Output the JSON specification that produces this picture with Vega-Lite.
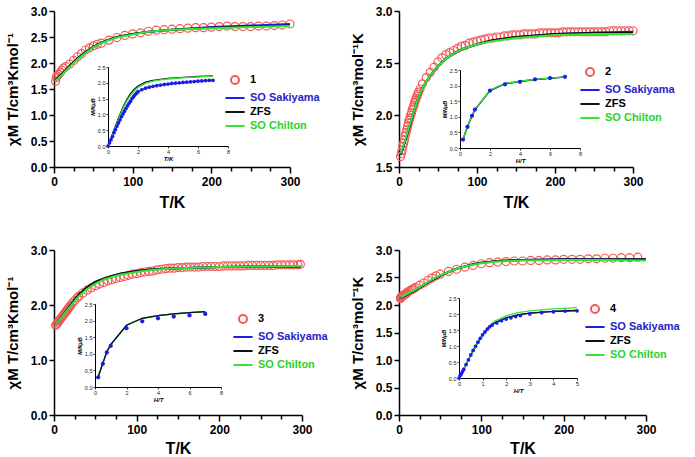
{
  "$schema": "https://vega.github.io/schema/vega-lite/v6.json",
  "padding": {"left": 5, "top": 5, "right": 0, "bottom": 0},
  "background": "white",
  "config": {
    "view": {"stroke": null},
    "font": "Liberation Sans",
    "axis": {"grid": false, "domainColor": "black", "tickColor": "black", "labelColor": "black", "titleColor": "black", "labelFontWeight": "bold", "titleFontWeight": "bold", "labelOverlap": false, "tickCount": 30},
    "legend": {"labelFont": "Liberation Sans"}
  },
  "datasets": {
    "main1": [
      {"T":2,"v":1.65,"s":"1"},{"T":3,"v":1.72,"s":"1"},{"T":4,"v":1.75,"s":"1"},{"T":6,"v":1.78,"s":"1"},{"T":8,"v":1.82,"s":"1"},{"T":10,"v":1.86,"s":"1"},{"T":12,"v":1.9,"s":"1"},{"T":15,"v":1.93,"s":"1"},{"T":20,"v":1.98,"s":"1"},{"T":25,"v":2.05,"s":"1"},{"T":30,"v":2.12,"s":"1"},{"T":35,"v":2.18,"s":"1"},{"T":40,"v":2.25,"s":"1"},{"T":45,"v":2.29,"s":"1"},{"T":50,"v":2.33,"s":"1"},{"T":55,"v":2.36,"s":"1"},{"T":60,"v":2.38,"s":"1"},{"T":70,"v":2.44,"s":"1"},{"T":80,"v":2.49,"s":"1"},{"T":90,"v":2.53,"s":"1"},{"T":100,"v":2.56,"s":"1"},{"T":110,"v":2.58,"s":"1"},{"T":120,"v":2.61,"s":"1"},{"T":130,"v":2.63,"s":"1"},{"T":140,"v":2.64,"s":"1"},{"T":150,"v":2.65,"s":"1"},{"T":160,"v":2.66,"s":"1"},{"T":170,"v":2.67,"s":"1"},{"T":180,"v":2.68,"s":"1"},{"T":190,"v":2.68,"s":"1"},{"T":200,"v":2.69,"s":"1"},{"T":210,"v":2.7,"s":"1"},{"T":220,"v":2.71,"s":"1"},{"T":230,"v":2.7,"s":"1"},{"T":240,"v":2.7,"s":"1"},{"T":250,"v":2.7,"s":"1"},{"T":260,"v":2.71,"s":"1"},{"T":270,"v":2.71,"s":"1"},{"T":280,"v":2.72,"s":"1"},{"T":290,"v":2.73,"s":"1"},{"T":300,"v":2.75,"s":"1"},
      {"T":2,"v":1.68,"s":"SO Sakiyama"},{"T":5,"v":1.72,"s":"SO Sakiyama"},{"T":10,"v":1.79,"s":"SO Sakiyama"},{"T":15,"v":1.87,"s":"SO Sakiyama"},{"T":20,"v":1.95,"s":"SO Sakiyama"},{"T":30,"v":2.09,"s":"SO Sakiyama"},{"T":40,"v":2.21,"s":"SO Sakiyama"},{"T":50,"v":2.31,"s":"SO Sakiyama"},{"T":60,"v":2.39,"s":"SO Sakiyama"},{"T":70,"v":2.45,"s":"SO Sakiyama"},{"T":80,"v":2.5,"s":"SO Sakiyama"},{"T":100,"v":2.56,"s":"SO Sakiyama"},{"T":120,"v":2.6,"s":"SO Sakiyama"},{"T":150,"v":2.64,"s":"SO Sakiyama"},{"T":200,"v":2.69,"s":"SO Sakiyama"},{"T":250,"v":2.72,"s":"SO Sakiyama"},{"T":300,"v":2.75,"s":"SO Sakiyama"},
      {"T":2,"v":1.68,"s":"ZFS"},{"T":5,"v":1.72,"s":"ZFS"},{"T":10,"v":1.79,"s":"ZFS"},{"T":15,"v":1.87,"s":"ZFS"},{"T":20,"v":1.95,"s":"ZFS"},{"T":30,"v":2.09,"s":"ZFS"},{"T":40,"v":2.21,"s":"ZFS"},{"T":50,"v":2.31,"s":"ZFS"},{"T":60,"v":2.39,"s":"ZFS"},{"T":70,"v":2.45,"s":"ZFS"},{"T":80,"v":2.5,"s":"ZFS"},{"T":100,"v":2.56,"s":"ZFS"},{"T":120,"v":2.6,"s":"ZFS"},{"T":150,"v":2.64,"s":"ZFS"},{"T":200,"v":2.68,"s":"ZFS"},{"T":250,"v":2.7,"s":"ZFS"},{"T":300,"v":2.72,"s":"ZFS"},
      {"T":2,"v":1.66,"s":"SO Chilton"},{"T":5,"v":1.7,"s":"SO Chilton"},{"T":10,"v":1.77,"s":"SO Chilton"},{"T":15,"v":1.85,"s":"SO Chilton"},{"T":20,"v":1.93,"s":"SO Chilton"},{"T":30,"v":2.07,"s":"SO Chilton"},{"T":40,"v":2.19,"s":"SO Chilton"},{"T":50,"v":2.3,"s":"SO Chilton"},{"T":60,"v":2.38,"s":"SO Chilton"},{"T":70,"v":2.44,"s":"SO Chilton"},{"T":80,"v":2.49,"s":"SO Chilton"},{"T":100,"v":2.55,"s":"SO Chilton"},{"T":120,"v":2.6,"s":"SO Chilton"},{"T":150,"v":2.64,"s":"SO Chilton"},{"T":200,"v":2.67,"s":"SO Chilton"},{"T":250,"v":2.69,"s":"SO Chilton"},{"T":300,"v":2.71,"s":"SO Chilton"}
    ],
    "ins1": [
      {"H":0,"M":0,"s":"dots"},{"H":0.1,"M":0.1,"s":"dots"},{"H":0.2,"M":0.2,"s":"dots"},{"H":0.3,"M":0.3,"s":"dots"},{"H":0.4,"M":0.42,"s":"dots"},{"H":0.5,"M":0.52,"s":"dots"},{"H":0.6,"M":0.63,"s":"dots"},{"H":0.7,"M":0.73,"s":"dots"},{"H":0.8,"M":0.83,"s":"dots"},{"H":0.9,"M":0.93,"s":"dots"},{"H":1.0,"M":1.02,"s":"dots"},{"H":1.1,"M":1.1,"s":"dots"},{"H":1.2,"M":1.19,"s":"dots"},{"H":1.3,"M":1.27,"s":"dots"},{"H":1.4,"M":1.35,"s":"dots"},{"H":1.5,"M":1.42,"s":"dots"},{"H":1.6,"M":1.5,"s":"dots"},{"H":1.7,"M":1.56,"s":"dots"},{"H":1.8,"M":1.62,"s":"dots"},{"H":1.9,"M":1.67,"s":"dots"},{"H":2.0,"M":1.72,"s":"dots"},{"H":2.25,"M":1.78,"s":"dots"},{"H":2.5,"M":1.83,"s":"dots"},{"H":2.75,"M":1.86,"s":"dots"},{"H":3.0,"M":1.89,"s":"dots"},{"H":3.25,"M":1.91,"s":"dots"},{"H":3.5,"M":1.93,"s":"dots"},{"H":3.75,"M":1.95,"s":"dots"},{"H":4.0,"M":1.96,"s":"dots"},{"H":4.25,"M":1.98,"s":"dots"},{"H":4.5,"M":1.99,"s":"dots"},{"H":4.75,"M":2.0,"s":"dots"},{"H":5.0,"M":2.01,"s":"dots"},{"H":5.25,"M":2.02,"s":"dots"},{"H":5.5,"M":2.03,"s":"dots"},{"H":5.75,"M":2.04,"s":"dots"},{"H":6.0,"M":2.05,"s":"dots"},{"H":6.25,"M":2.06,"s":"dots"},{"H":6.5,"M":2.07,"s":"dots"},{"H":6.75,"M":2.08,"s":"dots"},{"H":7.0,"M":2.08,"s":"dots"},
      {"H":0,"M":0,"s":"SO Sakiyama"},{"H":0.25,"M":0.27,"s":"SO Sakiyama"},{"H":0.5,"M":0.52,"s":"SO Sakiyama"},{"H":0.75,"M":0.78,"s":"SO Sakiyama"},{"H":1,"M":1.02,"s":"SO Sakiyama"},{"H":1.25,"M":1.24,"s":"SO Sakiyama"},{"H":1.5,"M":1.42,"s":"SO Sakiyama"},{"H":1.75,"M":1.59,"s":"SO Sakiyama"},{"H":2,"M":1.72,"s":"SO Sakiyama"},{"H":2.5,"M":1.83,"s":"SO Sakiyama"},{"H":3,"M":1.89,"s":"SO Sakiyama"},{"H":3.5,"M":1.93,"s":"SO Sakiyama"},{"H":4,"M":1.96,"s":"SO Sakiyama"},{"H":5,"M":2.01,"s":"SO Sakiyama"},{"H":6,"M":2.05,"s":"SO Sakiyama"},{"H":7,"M":2.08,"s":"SO Sakiyama"},
      {"H":0,"M":0,"s":"ZFS"},{"H":0.25,"M":0.32,"s":"ZFS"},{"H":0.5,"M":0.64,"s":"ZFS"},{"H":0.75,"M":0.95,"s":"ZFS"},{"H":1,"M":1.23,"s":"ZFS"},{"H":1.25,"M":1.47,"s":"ZFS"},{"H":1.5,"M":1.66,"s":"ZFS"},{"H":1.75,"M":1.8,"s":"ZFS"},{"H":2,"M":1.9,"s":"ZFS"},{"H":2.5,"M":2.02,"s":"ZFS"},{"H":3,"M":2.08,"s":"ZFS"},{"H":3.5,"M":2.11,"s":"ZFS"},{"H":4,"M":2.14,"s":"ZFS"},{"H":5,"M":2.17,"s":"ZFS"},{"H":6,"M":2.2,"s":"ZFS"},{"H":7,"M":2.22,"s":"ZFS"},
      {"H":0,"M":0,"s":"SO Chilton"},{"H":0.25,"M":0.31,"s":"SO Chilton"},{"H":0.5,"M":0.62,"s":"SO Chilton"},{"H":0.75,"M":0.92,"s":"SO Chilton"},{"H":1,"M":1.19,"s":"SO Chilton"},{"H":1.25,"M":1.42,"s":"SO Chilton"},{"H":1.5,"M":1.6,"s":"SO Chilton"},{"H":1.75,"M":1.74,"s":"SO Chilton"},{"H":2,"M":1.85,"s":"SO Chilton"},{"H":2.5,"M":1.98,"s":"SO Chilton"},{"H":3,"M":2.05,"s":"SO Chilton"},{"H":3.5,"M":2.09,"s":"SO Chilton"},{"H":4,"M":2.12,"s":"SO Chilton"},{"H":5,"M":2.16,"s":"SO Chilton"},{"H":6,"M":2.19,"s":"SO Chilton"},{"H":7,"M":2.21,"s":"SO Chilton"}
    ],
    "main2": [
      {"T":2,"v":1.6,"s":"2"},{"T":3,"v":1.63,"s":"2"},{"T":4,"v":1.66,"s":"2"},{"T":5,"v":1.7,"s":"2"},{"T":6,"v":1.73,"s":"2"},{"T":7,"v":1.76,"s":"2"},{"T":8,"v":1.8,"s":"2"},{"T":9,"v":1.83,"s":"2"},{"T":10,"v":1.86,"s":"2"},{"T":11,"v":1.89,"s":"2"},{"T":12,"v":1.92,"s":"2"},{"T":13,"v":1.95,"s":"2"},{"T":14,"v":1.97,"s":"2"},{"T":15,"v":2.0,"s":"2"},{"T":16,"v":2.02,"s":"2"},{"T":17,"v":2.05,"s":"2"},{"T":18,"v":2.07,"s":"2"},{"T":19,"v":2.09,"s":"2"},{"T":20,"v":2.12,"s":"2"},{"T":21,"v":2.14,"s":"2"},{"T":22,"v":2.16,"s":"2"},{"T":23,"v":2.18,"s":"2"},{"T":24,"v":2.2,"s":"2"},{"T":25,"v":2.22,"s":"2"},{"T":27,"v":2.25,"s":"2"},{"T":30,"v":2.3,"s":"2"},{"T":35,"v":2.36,"s":"2"},{"T":40,"v":2.41,"s":"2"},{"T":45,"v":2.46,"s":"2"},{"T":50,"v":2.51,"s":"2"},{"T":55,"v":2.55,"s":"2"},{"T":60,"v":2.58,"s":"2"},{"T":65,"v":2.6,"s":"2"},{"T":70,"v":2.62,"s":"2"},{"T":75,"v":2.64,"s":"2"},{"T":80,"v":2.66,"s":"2"},{"T":85,"v":2.67,"s":"2"},{"T":90,"v":2.69,"s":"2"},{"T":95,"v":2.7,"s":"2"},{"T":100,"v":2.71,"s":"2"},{"T":105,"v":2.72,"s":"2"},{"T":110,"v":2.73,"s":"2"},{"T":115,"v":2.74,"s":"2"},{"T":120,"v":2.74,"s":"2"},{"T":125,"v":2.75,"s":"2"},{"T":130,"v":2.75,"s":"2"},{"T":135,"v":2.76,"s":"2"},{"T":140,"v":2.76,"s":"2"},{"T":145,"v":2.77,"s":"2"},{"T":150,"v":2.77,"s":"2"},{"T":155,"v":2.77,"s":"2"},{"T":160,"v":2.78,"s":"2"},{"T":165,"v":2.78,"s":"2"},{"T":170,"v":2.78,"s":"2"},{"T":175,"v":2.78,"s":"2"},{"T":180,"v":2.79,"s":"2"},{"T":185,"v":2.79,"s":"2"},{"T":190,"v":2.79,"s":"2"},{"T":195,"v":2.79,"s":"2"},{"T":200,"v":2.79,"s":"2"},{"T":205,"v":2.79,"s":"2"},{"T":210,"v":2.8,"s":"2"},{"T":215,"v":2.8,"s":"2"},{"T":220,"v":2.8,"s":"2"},{"T":225,"v":2.8,"s":"2"},{"T":230,"v":2.8,"s":"2"},{"T":235,"v":2.8,"s":"2"},{"T":240,"v":2.8,"s":"2"},{"T":245,"v":2.8,"s":"2"},{"T":250,"v":2.8,"s":"2"},{"T":255,"v":2.8,"s":"2"},{"T":260,"v":2.8,"s":"2"},{"T":265,"v":2.8,"s":"2"},{"T":270,"v":2.81,"s":"2"},{"T":275,"v":2.81,"s":"2"},{"T":280,"v":2.81,"s":"2"},{"T":285,"v":2.81,"s":"2"},{"T":290,"v":2.81,"s":"2"},{"T":295,"v":2.81,"s":"2"},{"T":300,"v":2.81,"s":"2"},
      {"T":2,"v":1.62,"s":"SO Sakiyama"},{"T":5,"v":1.68,"s":"SO Sakiyama"},{"T":10,"v":1.8,"s":"SO Sakiyama"},{"T":15,"v":1.93,"s":"SO Sakiyama"},{"T":20,"v":2.06,"s":"SO Sakiyama"},{"T":25,"v":2.17,"s":"SO Sakiyama"},{"T":30,"v":2.26,"s":"SO Sakiyama"},{"T":40,"v":2.38,"s":"SO Sakiyama"},{"T":50,"v":2.47,"s":"SO Sakiyama"},{"T":60,"v":2.54,"s":"SO Sakiyama"},{"T":70,"v":2.59,"s":"SO Sakiyama"},{"T":80,"v":2.63,"s":"SO Sakiyama"},{"T":100,"v":2.68,"s":"SO Sakiyama"},{"T":120,"v":2.72,"s":"SO Sakiyama"},{"T":150,"v":2.75,"s":"SO Sakiyama"},{"T":200,"v":2.78,"s":"SO Sakiyama"},{"T":250,"v":2.79,"s":"SO Sakiyama"},{"T":300,"v":2.8,"s":"SO Sakiyama"},
      {"T":2,"v":1.62,"s":"ZFS"},{"T":5,"v":1.68,"s":"ZFS"},{"T":10,"v":1.8,"s":"ZFS"},{"T":15,"v":1.93,"s":"ZFS"},{"T":20,"v":2.06,"s":"ZFS"},{"T":25,"v":2.17,"s":"ZFS"},{"T":30,"v":2.26,"s":"ZFS"},{"T":40,"v":2.38,"s":"ZFS"},{"T":50,"v":2.47,"s":"ZFS"},{"T":60,"v":2.54,"s":"ZFS"},{"T":70,"v":2.59,"s":"ZFS"},{"T":80,"v":2.63,"s":"ZFS"},{"T":100,"v":2.68,"s":"ZFS"},{"T":120,"v":2.72,"s":"ZFS"},{"T":150,"v":2.75,"s":"ZFS"},{"T":200,"v":2.78,"s":"ZFS"},{"T":250,"v":2.79,"s":"ZFS"},{"T":300,"v":2.79,"s":"ZFS"},
      {"T":2,"v":1.63,"s":"SO Chilton"},{"T":5,"v":1.69,"s":"SO Chilton"},{"T":10,"v":1.81,"s":"SO Chilton"},{"T":15,"v":1.94,"s":"SO Chilton"},{"T":20,"v":2.06,"s":"SO Chilton"},{"T":25,"v":2.17,"s":"SO Chilton"},{"T":30,"v":2.26,"s":"SO Chilton"},{"T":40,"v":2.38,"s":"SO Chilton"},{"T":50,"v":2.47,"s":"SO Chilton"},{"T":60,"v":2.54,"s":"SO Chilton"},{"T":70,"v":2.59,"s":"SO Chilton"},{"T":80,"v":2.63,"s":"SO Chilton"},{"T":100,"v":2.68,"s":"SO Chilton"},{"T":120,"v":2.71,"s":"SO Chilton"},{"T":150,"v":2.74,"s":"SO Chilton"},{"T":200,"v":2.77,"s":"SO Chilton"},{"T":250,"v":2.78,"s":"SO Chilton"},{"T":300,"v":2.78,"s":"SO Chilton"}
    ],
    "ins2": [
      {"H":0.2,"M":0.27,"s":"dots"},{"H":0.5,"M":0.68,"s":"dots"},{"H":0.8,"M":1.03,"s":"dots"},{"H":1,"M":1.23,"s":"dots"},{"H":2,"M":1.84,"s":"dots"},{"H":3,"M":2.04,"s":"dots"},{"H":4,"M":2.12,"s":"dots"},{"H":5,"M":2.2,"s":"dots"},{"H":6,"M":2.24,"s":"dots"},{"H":7,"M":2.28,"s":"dots"},
      {"H":0.2,"M":0.27,"s":"SO Sakiyama"},{"H":0.5,"M":0.69,"s":"SO Sakiyama"},{"H":0.8,"M":1.03,"s":"SO Sakiyama"},{"H":1,"M":1.23,"s":"SO Sakiyama"},{"H":2,"M":1.84,"s":"SO Sakiyama"},{"H":3,"M":2.06,"s":"SO Sakiyama"},{"H":4,"M":2.14,"s":"SO Sakiyama"},{"H":5,"M":2.2,"s":"SO Sakiyama"},{"H":6,"M":2.24,"s":"SO Sakiyama"},{"H":7,"M":2.28,"s":"SO Sakiyama"},
      {"H":0.2,"M":0.27,"s":"ZFS"},{"H":0.5,"M":0.69,"s":"ZFS"},{"H":0.8,"M":1.03,"s":"ZFS"},{"H":1,"M":1.23,"s":"ZFS"},{"H":2,"M":1.84,"s":"ZFS"},{"H":3,"M":2.06,"s":"ZFS"},{"H":4,"M":2.13,"s":"ZFS"},{"H":5,"M":2.19,"s":"ZFS"},{"H":6,"M":2.23,"s":"ZFS"},{"H":7,"M":2.27,"s":"ZFS"},
      {"H":0.2,"M":0.28,"s":"SO Chilton"},{"H":0.5,"M":0.7,"s":"SO Chilton"},{"H":0.8,"M":1.04,"s":"SO Chilton"},{"H":1,"M":1.24,"s":"SO Chilton"},{"H":2,"M":1.85,"s":"SO Chilton"},{"H":3,"M":2.07,"s":"SO Chilton"},{"H":4,"M":2.14,"s":"SO Chilton"},{"H":5,"M":2.2,"s":"SO Chilton"},{"H":6,"M":2.24,"s":"SO Chilton"},{"H":7,"M":2.28,"s":"SO Chilton"}
    ],
    "main3": [
      {"T":2,"v":1.63,"s":"3"},{"T":3,"v":1.65,"s":"3"},{"T":4,"v":1.67,"s":"3"},{"T":5,"v":1.69,"s":"3"},{"T":6,"v":1.71,"s":"3"},{"T":7,"v":1.73,"s":"3"},{"T":8,"v":1.75,"s":"3"},{"T":9,"v":1.77,"s":"3"},{"T":10,"v":1.79,"s":"3"},{"T":11,"v":1.81,"s":"3"},{"T":12,"v":1.83,"s":"3"},{"T":13,"v":1.85,"s":"3"},{"T":14,"v":1.87,"s":"3"},{"T":15,"v":1.89,"s":"3"},{"T":16,"v":1.91,"s":"3"},{"T":17,"v":1.93,"s":"3"},{"T":18,"v":1.95,"s":"3"},{"T":19,"v":1.97,"s":"3"},{"T":20,"v":1.99,"s":"3"},{"T":22,"v":2.03,"s":"3"},{"T":25,"v":2.08,"s":"3"},{"T":28,"v":2.13,"s":"3"},{"T":30,"v":2.16,"s":"3"},{"T":35,"v":2.22,"s":"3"},{"T":40,"v":2.27,"s":"3"},{"T":45,"v":2.31,"s":"3"},{"T":50,"v":2.35,"s":"3"},{"T":55,"v":2.38,"s":"3"},{"T":60,"v":2.41,"s":"3"},{"T":65,"v":2.44,"s":"3"},{"T":70,"v":2.46,"s":"3"},{"T":75,"v":2.48,"s":"3"},{"T":80,"v":2.5,"s":"3"},{"T":85,"v":2.52,"s":"3"},{"T":90,"v":2.54,"s":"3"},{"T":95,"v":2.56,"s":"3"},{"T":100,"v":2.57,"s":"3"},{"T":105,"v":2.59,"s":"3"},{"T":110,"v":2.6,"s":"3"},{"T":115,"v":2.61,"s":"3"},{"T":120,"v":2.62,"s":"3"},{"T":125,"v":2.64,"s":"3"},{"T":130,"v":2.65,"s":"3"},{"T":135,"v":2.66,"s":"3"},{"T":140,"v":2.67,"s":"3"},{"T":145,"v":2.67,"s":"3"},{"T":150,"v":2.68,"s":"3"},{"T":155,"v":2.68,"s":"3"},{"T":160,"v":2.69,"s":"3"},{"T":165,"v":2.69,"s":"3"},{"T":170,"v":2.69,"s":"3"},{"T":175,"v":2.69,"s":"3"},{"T":180,"v":2.7,"s":"3"},{"T":185,"v":2.7,"s":"3"},{"T":190,"v":2.7,"s":"3"},{"T":195,"v":2.7,"s":"3"},{"T":200,"v":2.7,"s":"3"},{"T":205,"v":2.71,"s":"3"},{"T":210,"v":2.71,"s":"3"},{"T":215,"v":2.71,"s":"3"},{"T":220,"v":2.71,"s":"3"},{"T":225,"v":2.71,"s":"3"},{"T":230,"v":2.71,"s":"3"},{"T":235,"v":2.72,"s":"3"},{"T":240,"v":2.72,"s":"3"},{"T":245,"v":2.72,"s":"3"},{"T":250,"v":2.72,"s":"3"},{"T":255,"v":2.72,"s":"3"},{"T":260,"v":2.72,"s":"3"},{"T":265,"v":2.72,"s":"3"},{"T":270,"v":2.73,"s":"3"},{"T":275,"v":2.73,"s":"3"},{"T":280,"v":2.73,"s":"3"},{"T":285,"v":2.73,"s":"3"},{"T":290,"v":2.73,"s":"3"},{"T":295,"v":2.73,"s":"3"},{"T":298,"v":2.74,"s":"3"},
      {"T":2,"v":1.66,"s":"SO Sakiyama"},{"T":5,"v":1.7,"s":"SO Sakiyama"},{"T":10,"v":1.8,"s":"SO Sakiyama"},{"T":15,"v":1.9,"s":"SO Sakiyama"},{"T":20,"v":2.0,"s":"SO Sakiyama"},{"T":25,"v":2.1,"s":"SO Sakiyama"},{"T":30,"v":2.19,"s":"SO Sakiyama"},{"T":40,"v":2.32,"s":"SO Sakiyama"},{"T":50,"v":2.42,"s":"SO Sakiyama"},{"T":60,"v":2.48,"s":"SO Sakiyama"},{"T":70,"v":2.53,"s":"SO Sakiyama"},{"T":80,"v":2.57,"s":"SO Sakiyama"},{"T":100,"v":2.62,"s":"SO Sakiyama"},{"T":120,"v":2.65,"s":"SO Sakiyama"},{"T":150,"v":2.67,"s":"SO Sakiyama"},{"T":200,"v":2.69,"s":"SO Sakiyama"},{"T":250,"v":2.7,"s":"SO Sakiyama"},{"T":298,"v":2.7,"s":"SO Sakiyama"},
      {"T":2,"v":1.66,"s":"ZFS"},{"T":5,"v":1.7,"s":"ZFS"},{"T":10,"v":1.8,"s":"ZFS"},{"T":15,"v":1.9,"s":"ZFS"},{"T":20,"v":2.0,"s":"ZFS"},{"T":25,"v":2.1,"s":"ZFS"},{"T":30,"v":2.19,"s":"ZFS"},{"T":40,"v":2.32,"s":"ZFS"},{"T":50,"v":2.42,"s":"ZFS"},{"T":60,"v":2.48,"s":"ZFS"},{"T":70,"v":2.53,"s":"ZFS"},{"T":80,"v":2.57,"s":"ZFS"},{"T":100,"v":2.62,"s":"ZFS"},{"T":120,"v":2.65,"s":"ZFS"},{"T":150,"v":2.67,"s":"ZFS"},{"T":200,"v":2.69,"s":"ZFS"},{"T":250,"v":2.7,"s":"ZFS"},{"T":298,"v":2.7,"s":"ZFS"},
      {"T":2,"v":1.66,"s":"SO Chilton"},{"T":5,"v":1.7,"s":"SO Chilton"},{"T":10,"v":1.79,"s":"SO Chilton"},{"T":15,"v":1.89,"s":"SO Chilton"},{"T":20,"v":1.98,"s":"SO Chilton"},{"T":25,"v":2.07,"s":"SO Chilton"},{"T":30,"v":2.16,"s":"SO Chilton"},{"T":40,"v":2.29,"s":"SO Chilton"},{"T":50,"v":2.39,"s":"SO Chilton"},{"T":60,"v":2.46,"s":"SO Chilton"},{"T":70,"v":2.51,"s":"SO Chilton"},{"T":80,"v":2.55,"s":"SO Chilton"},{"T":100,"v":2.6,"s":"SO Chilton"},{"T":120,"v":2.64,"s":"SO Chilton"},{"T":150,"v":2.67,"s":"SO Chilton"},{"T":200,"v":2.69,"s":"SO Chilton"},{"T":250,"v":2.7,"s":"SO Chilton"},{"T":298,"v":2.71,"s":"SO Chilton"}
    ],
    "ins3": [
      {"H":0.2,"M":0.29,"s":"dots"},{"H":0.5,"M":0.7,"s":"dots"},{"H":0.75,"M":1.04,"s":"dots"},{"H":1,"M":1.24,"s":"dots"},{"H":2,"M":1.77,"s":"dots"},{"H":3,"M":1.98,"s":"dots"},{"H":4,"M":2.07,"s":"dots"},{"H":5,"M":2.12,"s":"dots"},{"H":6,"M":2.16,"s":"dots"},{"H":7,"M":2.2,"s":"dots"},
      {"H":0.2,"M":0.3,"s":"SO Sakiyama"},{"H":0.5,"M":0.72,"s":"SO Sakiyama"},{"H":0.75,"M":1.06,"s":"SO Sakiyama"},{"H":1,"M":1.28,"s":"SO Sakiyama"},{"H":2,"M":1.86,"s":"SO Sakiyama"},{"H":3,"M":2.07,"s":"SO Sakiyama"},{"H":4,"M":2.15,"s":"SO Sakiyama"},{"H":5,"M":2.2,"s":"SO Sakiyama"},{"H":6,"M":2.24,"s":"SO Sakiyama"},{"H":7,"M":2.27,"s":"SO Sakiyama"},
      {"H":0.2,"M":0.3,"s":"SO Chilton"},{"H":0.5,"M":0.72,"s":"SO Chilton"},{"H":0.75,"M":1.06,"s":"SO Chilton"},{"H":1,"M":1.28,"s":"SO Chilton"},{"H":2,"M":1.86,"s":"SO Chilton"},{"H":3,"M":2.07,"s":"SO Chilton"},{"H":4,"M":2.15,"s":"SO Chilton"},{"H":5,"M":2.2,"s":"SO Chilton"},{"H":6,"M":2.24,"s":"SO Chilton"},{"H":7,"M":2.27,"s":"SO Chilton"},
      {"H":0.2,"M":0.3,"s":"ZFS"},{"H":0.5,"M":0.72,"s":"ZFS"},{"H":0.75,"M":1.06,"s":"ZFS"},{"H":1,"M":1.28,"s":"ZFS"},{"H":2,"M":1.86,"s":"ZFS"},{"H":3,"M":2.07,"s":"ZFS"},{"H":4,"M":2.15,"s":"ZFS"},{"H":5,"M":2.2,"s":"ZFS"},{"H":6,"M":2.24,"s":"ZFS"},{"H":7,"M":2.27,"s":"ZFS"}
    ],
    "main4": [
      {"T":1.8,"v":2.12,"s":"4"},{"T":2,"v":2.13,"s":"4"},{"T":2.5,"v":2.14,"s":"4"},{"T":3,"v":2.15,"s":"4"},{"T":4,"v":2.16,"s":"4"},{"T":5,"v":2.17,"s":"4"},{"T":6,"v":2.18,"s":"4"},{"T":7,"v":2.19,"s":"4"},{"T":8,"v":2.2,"s":"4"},{"T":9,"v":2.21,"s":"4"},{"T":10,"v":2.23,"s":"4"},{"T":12,"v":2.25,"s":"4"},{"T":14,"v":2.27,"s":"4"},{"T":16,"v":2.28,"s":"4"},{"T":18,"v":2.3,"s":"4"},{"T":20,"v":2.32,"s":"4"},{"T":25,"v":2.36,"s":"4"},{"T":30,"v":2.4,"s":"4"},{"T":35,"v":2.45,"s":"4"},{"T":40,"v":2.49,"s":"4"},{"T":45,"v":2.53,"s":"4"},{"T":50,"v":2.56,"s":"4"},{"T":60,"v":2.61,"s":"4"},{"T":70,"v":2.65,"s":"4"},{"T":80,"v":2.69,"s":"4"},{"T":90,"v":2.72,"s":"4"},{"T":100,"v":2.75,"s":"4"},{"T":110,"v":2.77,"s":"4"},{"T":120,"v":2.78,"s":"4"},{"T":130,"v":2.79,"s":"4"},{"T":140,"v":2.8,"s":"4"},{"T":150,"v":2.8,"s":"4"},{"T":160,"v":2.81,"s":"4"},{"T":170,"v":2.81,"s":"4"},{"T":180,"v":2.82,"s":"4"},{"T":190,"v":2.82,"s":"4"},{"T":200,"v":2.83,"s":"4"},{"T":210,"v":2.83,"s":"4"},{"T":220,"v":2.83,"s":"4"},{"T":230,"v":2.84,"s":"4"},{"T":240,"v":2.84,"s":"4"},{"T":250,"v":2.85,"s":"4"},{"T":260,"v":2.85,"s":"4"},{"T":270,"v":2.86,"s":"4"},{"T":280,"v":2.86,"s":"4"},{"T":290,"v":2.87,"s":"4"},
      {"T":2,"v":2.13,"s":"SO Sakiyama"},{"T":10,"v":2.19,"s":"SO Sakiyama"},{"T":20,"v":2.27,"s":"SO Sakiyama"},{"T":30,"v":2.36,"s":"SO Sakiyama"},{"T":40,"v":2.45,"s":"SO Sakiyama"},{"T":50,"v":2.53,"s":"SO Sakiyama"},{"T":60,"v":2.6,"s":"SO Sakiyama"},{"T":70,"v":2.66,"s":"SO Sakiyama"},{"T":80,"v":2.7,"s":"SO Sakiyama"},{"T":90,"v":2.74,"s":"SO Sakiyama"},{"T":100,"v":2.77,"s":"SO Sakiyama"},{"T":120,"v":2.8,"s":"SO Sakiyama"},{"T":150,"v":2.82,"s":"SO Sakiyama"},{"T":200,"v":2.83,"s":"SO Sakiyama"},{"T":250,"v":2.83,"s":"SO Sakiyama"},{"T":300,"v":2.83,"s":"SO Sakiyama"},
      {"T":2,"v":2.13,"s":"ZFS"},{"T":10,"v":2.19,"s":"ZFS"},{"T":20,"v":2.27,"s":"ZFS"},{"T":30,"v":2.36,"s":"ZFS"},{"T":40,"v":2.45,"s":"ZFS"},{"T":50,"v":2.53,"s":"ZFS"},{"T":60,"v":2.6,"s":"ZFS"},{"T":70,"v":2.66,"s":"ZFS"},{"T":80,"v":2.7,"s":"ZFS"},{"T":90,"v":2.74,"s":"ZFS"},{"T":100,"v":2.77,"s":"ZFS"},{"T":120,"v":2.8,"s":"ZFS"},{"T":150,"v":2.82,"s":"ZFS"},{"T":200,"v":2.83,"s":"ZFS"},{"T":250,"v":2.83,"s":"ZFS"},{"T":300,"v":2.83,"s":"ZFS"},
      {"T":2,"v":2.14,"s":"SO Chilton"},{"T":10,"v":2.2,"s":"SO Chilton"},{"T":20,"v":2.28,"s":"SO Chilton"},{"T":30,"v":2.37,"s":"SO Chilton"},{"T":40,"v":2.46,"s":"SO Chilton"},{"T":50,"v":2.54,"s":"SO Chilton"},{"T":60,"v":2.6,"s":"SO Chilton"},{"T":70,"v":2.66,"s":"SO Chilton"},{"T":80,"v":2.7,"s":"SO Chilton"},{"T":90,"v":2.73,"s":"SO Chilton"},{"T":100,"v":2.76,"s":"SO Chilton"},{"T":120,"v":2.79,"s":"SO Chilton"},{"T":150,"v":2.81,"s":"SO Chilton"},{"T":200,"v":2.82,"s":"SO Chilton"},{"T":250,"v":2.82,"s":"SO Chilton"},{"T":300,"v":2.81,"s":"SO Chilton"}
    ],
    "ins4": [
      {"H":0,"M":0,"s":"dots"},{"H":0.05,"M":0.08,"s":"dots"},{"H":0.1,"M":0.13,"s":"dots"},{"H":0.15,"M":0.2,"s":"dots"},{"H":0.2,"M":0.27,"s":"dots"},{"H":0.3,"M":0.42,"s":"dots"},{"H":0.4,"M":0.57,"s":"dots"},{"H":0.5,"M":0.72,"s":"dots"},{"H":0.6,"M":0.86,"s":"dots"},{"H":0.7,"M":0.99,"s":"dots"},{"H":0.8,"M":1.12,"s":"dots"},{"H":0.9,"M":1.24,"s":"dots"},{"H":1.0,"M":1.35,"s":"dots"},{"H":1.1,"M":1.44,"s":"dots"},{"H":1.2,"M":1.53,"s":"dots"},{"H":1.3,"M":1.6,"s":"dots"},{"H":1.4,"M":1.65,"s":"dots"},{"H":1.6,"M":1.72,"s":"dots"},{"H":1.8,"M":1.79,"s":"dots"},{"H":2.0,"M":1.84,"s":"dots"},{"H":2.2,"M":1.88,"s":"dots"},{"H":2.4,"M":1.92,"s":"dots"},{"H":2.6,"M":1.95,"s":"dots"},{"H":3.0,"M":2.0,"s":"dots"},{"H":3.5,"M":2.04,"s":"dots"},{"H":4.0,"M":2.07,"s":"dots"},{"H":4.5,"M":2.09,"s":"dots"},{"H":5.0,"M":2.1,"s":"dots"},
      {"H":0,"M":0,"s":"SO Sakiyama"},{"H":0.25,"M":0.35,"s":"SO Sakiyama"},{"H":0.5,"M":0.72,"s":"SO Sakiyama"},{"H":0.75,"M":1.05,"s":"SO Sakiyama"},{"H":1,"M":1.35,"s":"SO Sakiyama"},{"H":1.25,"M":1.57,"s":"SO Sakiyama"},{"H":1.5,"M":1.72,"s":"SO Sakiyama"},{"H":2,"M":1.88,"s":"SO Sakiyama"},{"H":2.5,"M":1.97,"s":"SO Sakiyama"},{"H":3,"M":2.03,"s":"SO Sakiyama"},{"H":4,"M":2.08,"s":"SO Sakiyama"},{"H":5,"M":2.11,"s":"SO Sakiyama"},
      {"H":0,"M":0,"s":"ZFS"},{"H":0.25,"M":0.35,"s":"ZFS"},{"H":0.5,"M":0.72,"s":"ZFS"},{"H":0.75,"M":1.05,"s":"ZFS"},{"H":1,"M":1.35,"s":"ZFS"},{"H":1.25,"M":1.57,"s":"ZFS"},{"H":1.5,"M":1.72,"s":"ZFS"},{"H":2,"M":1.88,"s":"ZFS"},{"H":2.5,"M":1.97,"s":"ZFS"},{"H":3,"M":2.03,"s":"ZFS"},{"H":4,"M":2.08,"s":"ZFS"},{"H":5,"M":2.11,"s":"ZFS"},
      {"H":0,"M":0,"s":"SO Chilton"},{"H":0.25,"M":0.35,"s":"SO Chilton"},{"H":0.5,"M":0.73,"s":"SO Chilton"},{"H":0.75,"M":1.07,"s":"SO Chilton"},{"H":1,"M":1.37,"s":"SO Chilton"},{"H":1.25,"M":1.6,"s":"SO Chilton"},{"H":1.5,"M":1.77,"s":"SO Chilton"},{"H":2,"M":1.94,"s":"SO Chilton"},{"H":2.5,"M":2.04,"s":"SO Chilton"},{"H":3,"M":2.1,"s":"SO Chilton"},{"H":4,"M":2.16,"s":"SO Chilton"},{"H":5,"M":2.2,"s":"SO Chilton"}
    ]
  },
  "vconcat": [
    {
      "hconcat": [
        {
          "width": 236, "height": 156,
          "layer": [
            {
              "data": {"name": "main1"},
              "layer": [
                {
                  "transform": [{"filter": "datum.s == '1'"}],
                  "mark": {"type": "point", "filled": false, "size": 144, "strokeWidth": 1.2, "opacity": 1},
                  "encoding": {
                    "x": {"field": "T", "type": "quantitative", "scale": {"domain": [0, 300], "nice": false}, "axis": {"title": "T/K", "values": [0,25,50,75,100,125,150,175,200,225,250,275,300], "tickCount": 30, "format": "d", "labelExpr": "datum.value % 100 == 0 ? datum.label : ''", "tickSize": {"condition": {"test": "datum.value % 100 == 0", "value": 6}, "value": 4}, "domainWidth": 1.5, "tickWidth": 1.5, "labelFontSize": 12, "titleFontSize": 16, "titlePadding": 7, "labelPadding": 3, "labelFlush": false, "labelOverlap": false}},
                    "y": {"field": "v", "type": "quantitative", "scale": {"domain": [0, 3], "nice": false}, "axis": {"title": "χM T/cm³Kmol⁻¹", "values": [0,0.5,1,1.5,2,2.5,3], "tickCount": 30, "format": ".1f", "domainWidth": 1.5, "tickWidth": 1.5, "tickSize": 5, "labelFontSize": 12, "titleFontSize": 15, "titlePadding": 10, "labelOverlap": false, "labelBound": false}},
                    "color": {"field": "s", "type": "nominal", "scale": {"domain": ["1", "SO Sakiyama", "ZFS", "SO Chilton"], "range": ["#f05a5a", "#1f1fe0", "#111111", "#33e633"]}, "legend": {"orient": "none", "legendX": 174, "legendY": 62, "title": null, "symbolSize": 144, "symbolStrokeWidth": 2, "symbolFillColor": "transparent", "labelFontSize": 11, "labelFontWeight": "bold", "labelOffset": 8, "rowPadding": 2, "labelColor": {"expr": "datum.label == 'SO Sakiyama' ? '#2424c8' : datum.label == 'SO Chilton' ? '#2ad42a' : 'black'"}}},
                    "shape": {"field": "s", "type": "nominal", "scale": {"domain": ["1", "SO Sakiyama", "ZFS", "SO Chilton"], "range": ["M-0.67,0A0.67,0.67,0,1,1,0.67,0A0.67,0.67,0,1,1,-0.67,0Z", "M-1.6,0L1.6,0", "M-1.6,0L1.6,0", "M-1.6,0L1.6,0"]}}
                  }
                },
                {
                  "transform": [{"filter": "datum.s != '1'"}],
                  "mark": {"type": "line", "strokeWidth": 2},
                  "encoding": {
                    "x": {"field": "T", "type": "quantitative"},
                    "y": {"field": "v", "type": "quantitative"},
                    "color": {"field": "s", "type": "nominal"}
                  }
                }
              ]
            },
            {
              "data": {"name": "ins1"},
              "layer": [
                {
                  "transform": [{"filter": "datum.s != 'dots'"}],
                  "mark": {"type": "line", "strokeWidth": 1.3},
                  "encoding": {
                    "x": {"field": "H", "type": "quantitative", "scale": {"domain": [0, 8], "range": [54, 174], "nice": false, "zero": false}, "axis": {"orient": "bottom", "offset": -21, "title": "T/K", "values": [0,2,4,6,8], "tickCount": 30, "format": "d", "labelFontSize": 5.5, "labelFontWeight": "normal", "labelColor": "#222", "tickSize": 2, "tickWidth": 0.8, "domainWidth": 1, "titleFontSize": 6, "titleFontStyle": "italic", "titlePadding": 1, "labelPadding": 1, "labelOverlap": false, "labelFlush": false}},
                    "y": {"field": "M", "type": "quantitative", "scale": {"domain": [0, 2.5], "range": [135, 56], "nice": false}, "axis": {"orient": "left", "offset": -54, "title": "M/NμB", "values": [0,0.5,1,1.5,2,2.5], "tickCount": 30, "format": ".1f", "labelFontSize": 5.5, "labelFontWeight": "normal", "labelColor": "#222", "tickSize": 2, "tickWidth": 0.8, "domainWidth": 1, "titleFontSize": 5.5, "titleFontStyle": "italic", "titlePadding": 2, "labelPadding": 1, "labelOverlap": false, "labelFlush": false}},
                    "color": {"field": "s", "type": "nominal"}
                  }
                },
                {
                  "transform": [{"filter": "datum.s == 'dots'"}],
                  "mark": {"type": "circle", "size": 14, "color": "#1a1aee", "opacity": 1},
                  "encoding": {
                    "x": {"field": "H", "type": "quantitative"},
                    "y": {"field": "M", "type": "quantitative"}
                  }
                }
              ]
            }
          ],
          "resolve": {"scale": {"x": "independent", "y": "independent"}, "axis": {"x": "independent", "y": "independent"}}
        },
        {
          "width": 234, "height": 156,
          "layer": [
            {
              "data": {"name": "main2"},
              "layer": [
                {
                  "transform": [{"filter": "datum.s == '2'"}],
                  "mark": {"type": "point", "filled": false, "size": 144, "strokeWidth": 1.2, "opacity": 1},
                  "encoding": {
                    "x": {"field": "T", "type": "quantitative", "scale": {"domain": [0, 300], "nice": false}, "axis": {"title": "T/K", "values": [0,25,50,75,100,125,150,175,200,225,250,275,300], "tickCount": 30, "format": "d", "labelExpr": "datum.value % 100 == 0 ? datum.label : ''", "tickSize": {"condition": {"test": "datum.value % 100 == 0", "value": 6}, "value": 4}, "domainWidth": 1.5, "tickWidth": 1.5, "labelFontSize": 12, "titleFontSize": 16, "titlePadding": 7, "labelPadding": 3, "labelFlush": false, "labelOverlap": false}},
                    "y": {"field": "v", "type": "quantitative", "scale": {"domain": [1.5, 3], "nice": false, "zero": false}, "axis": {"title": "χM T/cm³mol⁻¹K", "values": [1.5,2,2.5,3], "tickCount": 30, "format": ".1f", "domainWidth": 1.5, "tickWidth": 1.5, "tickSize": 5, "labelFontSize": 12, "titleFontSize": 15, "titlePadding": 10, "labelOverlap": false, "labelBound": false}},
                    "color": {"field": "s", "type": "nominal", "scale": {"domain": ["2", "SO Sakiyama", "ZFS", "SO Chilton"], "range": ["#f05a5a", "#1f1fe0", "#111111", "#33e633"]}, "legend": {"orient": "none", "legendX": 184, "legendY": 54, "title": null, "symbolSize": 144, "symbolStrokeWidth": 2, "symbolFillColor": "transparent", "labelFontSize": 11, "labelFontWeight": "bold", "labelOffset": 8, "rowPadding": 2, "labelColor": {"expr": "datum.label == 'SO Sakiyama' ? '#2424c8' : datum.label == 'SO Chilton' ? '#2ad42a' : 'black'"}}},
                    "shape": {"field": "s", "type": "nominal", "scale": {"domain": ["2", "SO Sakiyama", "ZFS", "SO Chilton"], "range": ["M-0.67,0A0.67,0.67,0,1,1,0.67,0A0.67,0.67,0,1,1,-0.67,0Z", "M-1.6,0L1.6,0", "M-1.6,0L1.6,0", "M-1.6,0L1.6,0"]}}
                  }
                },
                {
                  "transform": [{"filter": "datum.s != '2'"}],
                  "mark": {"type": "line", "strokeWidth": 2},
                  "encoding": {
                    "x": {"field": "T", "type": "quantitative"},
                    "y": {"field": "v", "type": "quantitative"},
                    "color": {"field": "s", "type": "nominal"}
                  }
                }
              ]
            },
            {
              "data": {"name": "ins2"},
              "layer": [
                {
                  "transform": [{"filter": "datum.s != 'dots'"}],
                  "mark": {"type": "line", "strokeWidth": 1.3},
                  "encoding": {
                    "x": {"field": "H", "type": "quantitative", "scale": {"domain": [0, 8], "range": [61, 181], "nice": false, "zero": false}, "axis": {"orient": "bottom", "offset": -19, "title": "H/T", "values": [0,2,4,6,8], "tickCount": 30, "format": "d", "labelFontSize": 5.5, "labelFontWeight": "normal", "labelColor": "#222", "tickSize": 2, "tickWidth": 0.8, "domainWidth": 1, "titleFontSize": 6, "titleFontStyle": "italic", "titlePadding": 1, "labelPadding": 1, "labelOverlap": false, "labelFlush": false}},
                    "y": {"field": "M", "type": "quantitative", "scale": {"domain": [0, 2.5], "range": [137, 59], "nice": false}, "axis": {"orient": "left", "offset": -61, "title": "M/NμB", "values": [0,0.5,1,1.5,2,2.5], "tickCount": 30, "format": ".1f", "labelFontSize": 5.5, "labelFontWeight": "normal", "labelColor": "#222", "tickSize": 2, "tickWidth": 0.8, "domainWidth": 1, "titleFontSize": 5.5, "titleFontStyle": "italic", "titlePadding": 2, "labelPadding": 1, "labelOverlap": false, "labelFlush": false}},
                    "color": {"field": "s", "type": "nominal"}
                  }
                },
                {
                  "transform": [{"filter": "datum.s == 'dots'"}],
                  "mark": {"type": "circle", "size": 18, "color": "#1a1aee", "opacity": 1},
                  "encoding": {
                    "x": {"field": "H", "type": "quantitative"},
                    "y": {"field": "M", "type": "quantitative"}
                  }
                }
              ]
            }
          ],
          "resolve": {"scale": {"x": "independent", "y": "independent"}, "axis": {"x": "independent", "y": "independent"}}
        }
      ],
      "spacing": 30,
      "resolve": {"scale": {"color": "independent", "shape": "independent"}}
    },
    {
      "hconcat": [
        {
          "width": 248, "height": 165,
          "layer": [
            {
              "data": {"name": "main3"},
              "layer": [
                {
                  "transform": [{"filter": "datum.s == '3'"}],
                  "mark": {"type": "point", "filled": false, "size": 144, "strokeWidth": 1.2, "opacity": 1},
                  "encoding": {
                    "x": {"field": "T", "type": "quantitative", "scale": {"domain": [0, 300], "nice": false}, "axis": {"title": "T/K", "values": [0,25,50,75,100,125,150,175,200,225,250,275,300], "tickCount": 30, "format": "d", "labelExpr": "datum.value % 100 == 0 ? datum.label : ''", "tickSize": {"condition": {"test": "datum.value % 100 == 0", "value": 6}, "value": 4}, "domainWidth": 1.5, "tickWidth": 1.5, "labelFontSize": 12, "titleFontSize": 16, "titlePadding": 5, "labelPadding": 3, "labelFlush": false, "labelOverlap": false}},
                    "y": {"field": "v", "type": "quantitative", "scale": {"domain": [0, 3], "nice": false}, "axis": {"title": "χM T/cm³Kmol⁻¹", "values": [0,1,2,3], "tickCount": 30, "format": ".1f", "domainWidth": 1.5, "tickWidth": 1.5, "tickSize": 5, "labelFontSize": 12, "titleFontSize": 15, "titlePadding": 10, "labelOverlap": false, "labelBound": false}},
                    "color": {"field": "s", "type": "nominal", "scale": {"domain": ["3", "SO Sakiyama", "ZFS", "SO Chilton"], "range": ["#f05a5a", "#1f1fe0", "#111111", "#33e633"]}, "legend": {"orient": "none", "legendX": 182, "legendY": 62, "title": null, "symbolSize": 144, "symbolStrokeWidth": 2, "symbolFillColor": "transparent", "labelFontSize": 11, "labelFontWeight": "bold", "labelOffset": 8, "rowPadding": 2, "labelColor": {"expr": "datum.label == 'SO Sakiyama' ? '#2424c8' : datum.label == 'SO Chilton' ? '#2ad42a' : 'black'"}}},
                    "shape": {"field": "s", "type": "nominal", "scale": {"domain": ["3", "SO Sakiyama", "ZFS", "SO Chilton"], "range": ["M-0.67,0A0.67,0.67,0,1,1,0.67,0A0.67,0.67,0,1,1,-0.67,0Z", "M-1.6,0L1.6,0", "M-1.6,0L1.6,0", "M-1.6,0L1.6,0"]}}
                  }
                },
                {
                  "transform": [{"filter": "datum.s != '3'"}],
                  "mark": {"type": "line", "strokeWidth": 2},
                  "encoding": {
                    "x": {"field": "T", "type": "quantitative"},
                    "y": {"field": "v", "type": "quantitative"},
                    "color": {"field": "s", "type": "nominal"}
                  }
                }
              ]
            },
            {
              "data": {"name": "ins3"},
              "layer": [
                {
                  "transform": [{"filter": "datum.s != 'dots'"}],
                  "mark": {"type": "line", "strokeWidth": 1.3},
                  "encoding": {
                    "x": {"field": "H", "type": "quantitative", "scale": {"domain": [0, 8], "range": [41, 167], "nice": false, "zero": false}, "axis": {"orient": "bottom", "offset": -28, "title": "H/T", "values": [0,2,4,6,8], "tickCount": 30, "format": "d", "labelFontSize": 5.5, "labelFontWeight": "normal", "labelColor": "#222", "tickSize": 2, "tickWidth": 0.8, "domainWidth": 1, "titleFontSize": 6, "titleFontStyle": "italic", "titlePadding": 1, "labelPadding": 1, "labelOverlap": false, "labelFlush": false}},
                    "y": {"field": "M", "type": "quantitative", "scale": {"domain": [0, 2.5], "range": [137, 54], "nice": false}, "axis": {"orient": "left", "offset": -41, "title": "M/NμB", "values": [0,0.5,1,1.5,2,2.5], "tickCount": 30, "format": ".1f", "labelFontSize": 5.5, "labelFontWeight": "normal", "labelColor": "#222", "tickSize": 2, "tickWidth": 0.8, "domainWidth": 1, "titleFontSize": 5.5, "titleFontStyle": "italic", "titlePadding": 2, "labelPadding": 1, "labelOverlap": false, "labelFlush": false}},
                    "color": {"field": "s", "type": "nominal"}
                  }
                },
                {
                  "transform": [{"filter": "datum.s == 'dots'"}],
                  "mark": {"type": "circle", "size": 18, "color": "#1a1aee", "opacity": 1},
                  "encoding": {
                    "x": {"field": "H", "type": "quantitative"},
                    "y": {"field": "M", "type": "quantitative"}
                  }
                }
              ]
            }
          ],
          "resolve": {"scale": {"x": "independent", "y": "independent"}, "axis": {"x": "independent", "y": "independent"}}
        },
        {
          "width": 247, "height": 165,
          "layer": [
            {
              "data": {"name": "main4"},
              "layer": [
                {
                  "transform": [{"filter": "datum.s == '4'"}],
                  "mark": {"type": "point", "filled": false, "size": 144, "strokeWidth": 1.2, "opacity": 1},
                  "encoding": {
                    "x": {"field": "T", "type": "quantitative", "scale": {"domain": [0, 300], "nice": false}, "axis": {"title": "T/K", "values": [0,25,50,75,100,125,150,175,200,225,250,275,300], "tickCount": 30, "format": "d", "labelExpr": "datum.value % 100 == 0 ? datum.label : ''", "tickSize": {"condition": {"test": "datum.value % 100 == 0", "value": 6}, "value": 4}, "domainWidth": 1.5, "tickWidth": 1.5, "labelFontSize": 12, "titleFontSize": 16, "titlePadding": 5, "labelPadding": 3, "labelFlush": false, "labelOverlap": false}},
                    "y": {"field": "v", "type": "quantitative", "scale": {"domain": [0, 3], "nice": false}, "axis": {"title": "χM T/cm³mol⁻¹K", "values": [0,0.5,1,1.5,2,2.5,3], "tickCount": 30, "format": ".1f", "domainWidth": 1.5, "tickWidth": 1.5, "tickSize": 5, "labelFontSize": 12, "titleFontSize": 15, "titlePadding": 10, "labelOverlap": false, "labelBound": false}},
                    "color": {"field": "s", "type": "nominal", "scale": {"domain": ["4", "SO Sakiyama", "ZFS", "SO Chilton"], "range": ["#f05a5a", "#1f1fe0", "#111111", "#33e633"]}, "legend": {"orient": "none", "legendX": 189, "legendY": 52, "title": null, "symbolSize": 144, "symbolStrokeWidth": 2, "symbolFillColor": "transparent", "labelFontSize": 11, "labelFontWeight": "bold", "labelOffset": 8, "rowPadding": 2, "labelColor": {"expr": "datum.label == 'SO Sakiyama' ? '#2424c8' : datum.label == 'SO Chilton' ? '#2ad42a' : 'black'"}}},
                    "shape": {"field": "s", "type": "nominal", "scale": {"domain": ["4", "SO Sakiyama", "ZFS", "SO Chilton"], "range": ["M-0.67,0A0.67,0.67,0,1,1,0.67,0A0.67,0.67,0,1,1,-0.67,0Z", "M-1.6,0L1.6,0", "M-1.6,0L1.6,0", "M-1.6,0L1.6,0"]}}
                  }
                },
                {
                  "transform": [{"filter": "datum.s != '4'"}],
                  "mark": {"type": "line", "strokeWidth": 2},
                  "encoding": {
                    "x": {"field": "T", "type": "quantitative"},
                    "y": {"field": "v", "type": "quantitative"},
                    "color": {"field": "s", "type": "nominal"}
                  }
                }
              ]
            },
            {
              "data": {"name": "ins4"},
              "layer": [
                {
                  "transform": [{"filter": "datum.s != 'dots'"}],
                  "mark": {"type": "line", "strokeWidth": 1.3},
                  "encoding": {
                    "x": {"field": "H", "type": "quantitative", "scale": {"domain": [0, 5], "range": [60, 178], "nice": false, "zero": false}, "axis": {"orient": "bottom", "offset": -37, "title": "H/T", "values": [0,1,2,3,4,5], "tickCount": 30, "format": "d", "labelFontSize": 5.5, "labelFontWeight": "normal", "labelColor": "#222", "tickSize": 2, "tickWidth": 0.8, "domainWidth": 1, "titleFontSize": 6, "titleFontStyle": "italic", "titlePadding": 1, "labelPadding": 1, "labelOverlap": false, "labelFlush": false}},
                    "y": {"field": "M", "type": "quantitative", "scale": {"domain": [0, 2.5], "range": [128, 48], "nice": false}, "axis": {"orient": "left", "offset": -60, "title": "M/NμB", "values": [0,0.5,1,1.5,2,2.5], "tickCount": 30, "format": ".1f", "labelFontSize": 5.5, "labelFontWeight": "normal", "labelColor": "#222", "tickSize": 2, "tickWidth": 0.8, "domainWidth": 1, "titleFontSize": 5.5, "titleFontStyle": "italic", "titlePadding": 2, "labelPadding": 1, "labelOverlap": false, "labelFlush": false}},
                    "color": {"field": "s", "type": "nominal"}
                  }
                },
                {
                  "transform": [{"filter": "datum.s == 'dots'"}],
                  "mark": {"type": "circle", "size": 14, "color": "#1a1aee", "opacity": 1},
                  "encoding": {
                    "x": {"field": "H", "type": "quantitative"},
                    "y": {"field": "M", "type": "quantitative"}
                  }
                }
              ]
            }
          ],
          "resolve": {"scale": {"x": "independent", "y": "independent"}, "axis": {"x": "independent", "y": "independent"}}
        }
      ],
      "spacing": 22,
      "resolve": {"scale": {"color": "independent", "shape": "independent"}}
    }
  ],
  "spacing": 34,
  "resolve": {"scale": {"color": "independent", "shape": "independent"}}
}
